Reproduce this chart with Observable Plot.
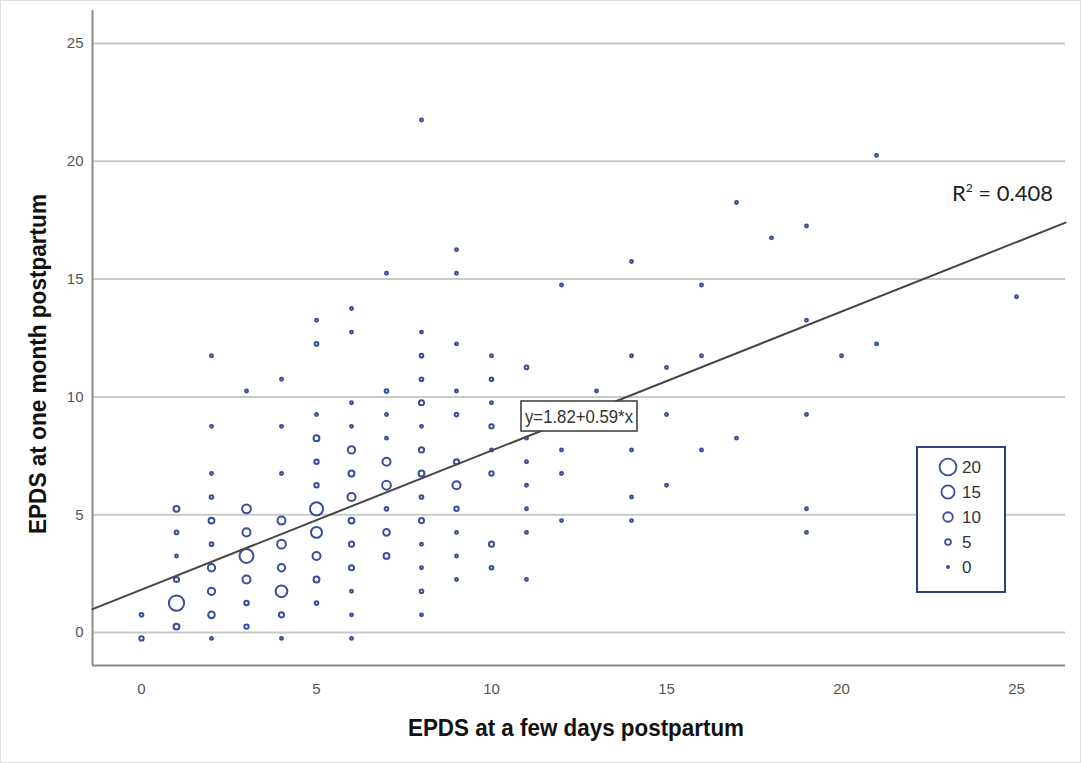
<!DOCTYPE html>
<html><head><meta charset="utf-8">
<script src="https://cdn.jsdelivr.net/npm/d3@7"></script>
<script src="https://cdn.jsdelivr.net/npm/@observablehq/plot@0.6"></script>
<style>
html,body{margin:0;padding:0;background:#fff;}
#chart{width:1081px;height:763px;}
</style></head><body><div id="chart"></div>
<script>
// EPDS at a few days postpartum (x)
const fewDays = [
 0,0,
 1,1,1,1,1,1,
 2,2,2,2,2,2,2,2,2,2,
 3,3,3,3,3,3,3,
 4,4,4,4,4,4,4,4,4,
 5,5,5,5,5,5,5,5,5,5,5,
 6,6,6,6,6,6,6,6,6,6,6,6,6,
 7,7,7,7,7,7,7,7,7,
 8,8,8,8,8,8,8,8,8,8,8,8,8,8,
 9,9,9,9,9,9,9,9,9,9,9,
 10,10,10,10,10,10,10,10,
 11,11,11,11,11,11,11,
 12,12,12,12,
 13,
 14,14,14,14,14,
 15,15,15,
 16,16,16,
 17,17,
 18,
 19,19,19,19,19,
 20,
 21,21,
 25
];
// EPDS at one month postpartum (y, as plotted)
const oneMonth = [
 0.75,-0.25,
 5.25,4.25,3.25,2.25,1.25,0.25,
 11.75,8.75,6.75,5.75,4.75,3.75,2.75,1.75,0.75,-0.25,
 10.25,5.25,4.25,3.25,2.25,1.25,0.25,
 10.75,8.75,6.75,4.75,3.75,2.75,1.75,0.75,-0.25,
 13.25,12.25,9.25,8.25,7.25,6.25,5.25,4.25,3.25,2.25,1.25,
 13.75,12.75,9.75,8.75,7.75,6.75,5.75,4.75,3.75,2.75,1.75,0.75,-0.25,
 15.25,10.25,9.25,8.25,7.25,6.25,5.25,4.25,3.25,
 21.75,12.75,11.75,10.75,9.75,8.75,7.75,6.75,5.75,4.75,3.75,2.75,1.75,0.75,
 16.25,15.25,12.25,10.25,9.25,7.25,6.25,5.25,4.25,3.25,2.25,
 11.75,10.75,9.75,8.75,7.75,6.75,3.75,2.75,
 11.25,8.25,7.25,6.25,5.25,4.25,2.25,
 14.75,7.75,6.75,4.75,
 10.25,
 15.75,11.75,7.75,5.75,4.75,
 11.25,9.25,6.25,
 14.75,11.75,7.75,
 18.25,8.25,
 16.75,
 17.25,13.25,9.25,5.25,4.25,
 11.75,
 20.25,12.25,
 14.25
];
// number of cases at each point
const nCases = [
 2,3,
 5,2,1,4,18,5,
 1,1,1,2,5,2,7,7,6,1,
 1,9,8,16,8,3,3,
 1,1,1,8,9,7,13,4,1,
 1,2,1,5,3,3,15,12,8,5,2,
 1,1,1,1,7,5,8,5,4,4,1,1,1,
 1,2,1,1,8,9,2,6,5,
 1,1,2,2,4,1,4,5,2,4,1,1,2,1,
 1,1,1,1,2,4,8,3,1,1,1,
 1,2,1,3,1,3,4,2,
 2,1,1,1,1,1,1,
 1,1,1,1,
 1,
 1,1,1,1,1,
 1,1,1,
 1,1,1,
 1,1,
 1,
 1,1,1,1,1,
 1,
 1,1,
 1
];
const xTicks = [0, 5, 10, 15, 20, 25];
const yTicks = [0, 5, 10, 15, 20, 25];
const legendCounts = [20, 15, 10, 5, 0];
const fitIntercept = 1.82;
const fitSlope = 0.59;
const fitLabel = "y=1.82+0.59*x";
const rSquaredLabel = "0.408";
const xTitle = "EPDS at a few days postpartum";
const yTitle = "EPDS at one month postpartum";

const data = fewDays.map((x, i) => ({x, y: oneMonth[i], n: nCases[i]}));
const xDomain = [-1.4, 26.4];
const yDomain = [-1.4, 26.4];
const blue = "#3a4d9c";
const font = "'Liberation Sans', Arial, sans-serif";

const plot = Plot.plot({
  width: 1081, height: 763,
  marginLeft: 92, marginRight: 16, marginTop: 10, marginBottom: 98,
  style: {fontFamily: font, fontSize: "14px", background: "white"},
  x: {domain: xDomain, label: null},
  y: {domain: yDomain, label: null},
  r: {type: "linear", domain: [0, 20], range: [1.1, 8.4]},
  marks: [
    Plot.gridY(yTicks, {stroke: "#c9c9c9", strokeWidth: 2, strokeOpacity: 1}),
    Plot.axisX(xTicks, {tickSize: 0, tickPadding: 18, fill: "#555", fontSize: 15, label: null}),
    Plot.axisY(yTicks, {tickSize: 0, tickPadding: 9, fill: "#555", fontSize: 15, label: null}),
    Plot.ruleX([xDomain[0]], {stroke: "#8c8c8c", strokeWidth: 2}),
    Plot.ruleY([yDomain[0]], {stroke: "#8c8c8c", strokeWidth: 2}),
    Plot.dot(data, {x: "x", y: "y", r: "n", stroke: blue, strokeWidth: 2, fill: "none"}),
    Plot.line(xDomain, {x: d => d, y: d => fitIntercept + fitSlope * d, stroke: "#454545", strokeWidth: 2})
  ]
});
document.getElementById("chart").appendChild(plot);

const svg = d3.select(plot);
// light outer frame
svg.append("rect").attr("x", 0.5).attr("y", 0.5).attr("width", 1080).attr("height", 762)
  .attr("fill", "none").attr("stroke", "#dedede");

// axis titles
svg.append("text").text(xTitle)
  .attr("x", 576).attr("y", 736).attr("text-anchor", "middle")
  .attr("textLength", 336).attr("lengthAdjust", "spacingAndGlyphs")
  .attr("font-family", font).attr("font-size", 23).attr("font-weight", "bold").attr("fill", "#111");
svg.append("text").text(yTitle)
  .attr("transform", "translate(46,364) rotate(-90)").attr("text-anchor", "middle")
  .attr("textLength", 340).attr("lengthAdjust", "spacingAndGlyphs")
  .attr("font-family", font).attr("font-size", 23).attr("font-weight", "bold").attr("fill", "#111");

// fit equation box
const eq = svg.append("g").attr("transform", "translate(579,416)");
eq.append("rect").attr("x", -58).attr("y", -15).attr("width", 116).attr("height", 30)
  .attr("fill", "white").attr("stroke", "#444").attr("stroke-width", 1.6);
eq.append("text").text(fitLabel).attr("text-anchor", "middle").attr("dy", "0.35em")
  .attr("textLength", 108).attr("lengthAdjust", "spacingAndGlyphs")
  .attr("font-family", font).attr("font-size", 19).attr("fill", "#333");

// R squared
const r2 = svg.append("text").attr("x", 1053).attr("y", 201).attr("text-anchor", "end")
  .attr("font-family", "Lato, 'Open Sans', sans-serif").attr("font-size", 22).attr("fill", "#222");
r2.append("tspan").text("R");
r2.append("tspan").text("2").attr("font-size", 12).attr("dy", -9);
r2.append("tspan").text(" = " + rSquaredLabel).attr("dy", 9);

// size legend
const rs = plot.scale("r");
const rScale = d3.scaleLinear(rs.domain, rs.range);
const lg = svg.append("g");
lg.append("rect").attr("x", 917).attr("y", 447).attr("width", 88).attr("height", 145)
  .attr("fill", "white").attr("stroke", "#2f3f80").attr("stroke-width", 2);
const rowY = [467, 492, 517, 542, 567];
legendCounts.forEach((c, i) => {
  lg.append("circle").attr("cx", 948).attr("cy", rowY[i]).attr("r", rScale(c))
    .attr("fill", "none").attr("stroke", blue).attr("stroke-width", 1.8);
  lg.append("text").text(String(c)).attr("x", 962).attr("y", rowY[i]).attr("dy", "0.36em")
    .attr("text-anchor", "start")
    .attr("font-family", font).attr("font-size", 17).attr("fill", "#333");
});
</script></body></html>
